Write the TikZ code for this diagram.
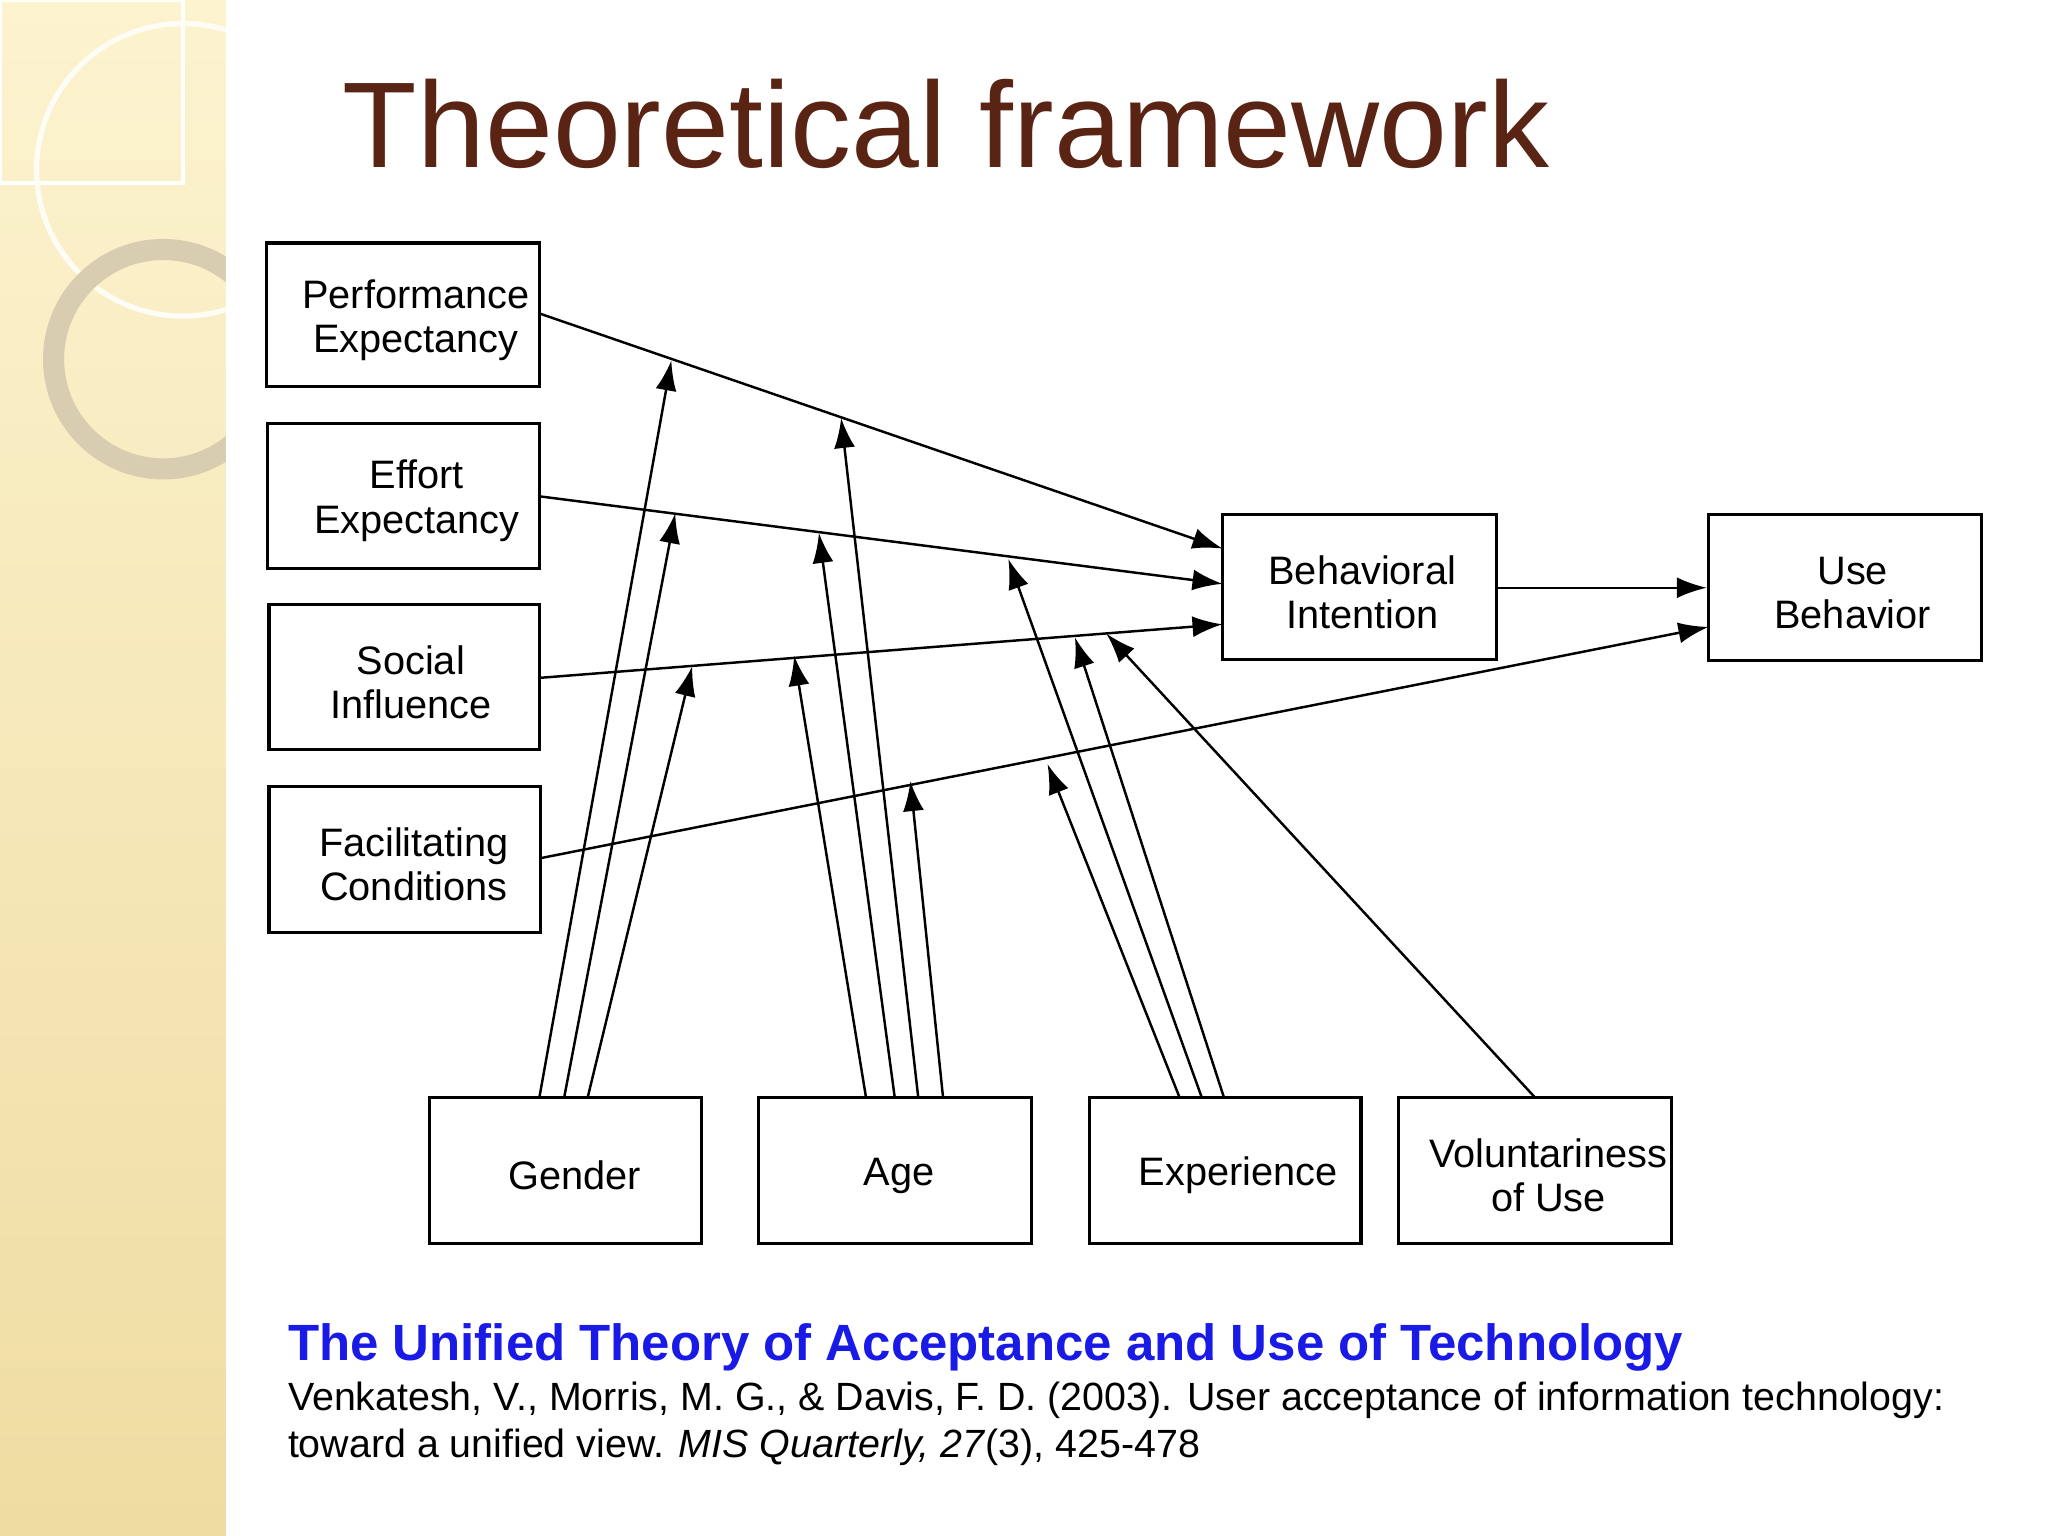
\documentclass[tikz,border=0pt]{standalone}
\usepackage{fontspec}
\setmainfont{Liberation Sans}
\usetikzlibrary{fit,arrows.meta,calc}
\definecolor{titlebrown}{HTML}{5A2415}
\definecolor{stripTop}{HTML}{FCF3CF}
\definecolor{stripBot}{HTML}{EFDCA2}
\definecolor{ringcol}{HTML}{D8CDB0}
\definecolor{citeblue}{HTML}{1A1AE6}
\begin{document}
\begin{tikzpicture}[x=0.01306cm,y=-0.01306cm,
  box/.style={draw,line width=0.9pt,inner sep=0pt},
  lbl/.style={align=center,inner sep=0pt,font=\fontsize{11.3pt}{12.6pt}\selectfont},
  arr/.style={line width=0.7pt,-{Latex[length=3mm,width=2.1mm]}}]
\useasboundingbox (0,0) rectangle (1568,1176);
\fill[white] (0,0) rectangle (1568,1176);
% left strip
\shade[top color=stripTop,bottom color=stripBot] (0,0) rectangle (173,1176);
\begin{scope}
\clip (0,0) rectangle (173,1176);
\draw[white,line width=1pt] (0,0) rectangle (140,140);
\draw[white!80!stripTop,line width=1.5pt] (140,130) circle (112);
\draw[ringcol,line width=6pt] (125,275) circle (84);
\end{scope}
% title
\node[anchor=base west,text=titlebrown,font=\fontsize{34.7pt}{40pt}\selectfont,inner sep=0] (title) at (262,128) {Theoretical framework};
% boxes
\node[box,fit={(204,186)(413,296)}] (pe) {};
\node[box,fit={(205,324)(413,435)}] (ee) {};
\node[box,fit={(206,463)(413,574)}] (si) {};
\node[box,fit={(206,602)(414,714)}] (fc) {};
\node[box,fit={(936,394)(1146,505)}] (bi) {};
\node[box,fit={(1308,394)(1517,506)}] (ub) {};
\node[box,fit={(329,840)(537,952)}] (gen) {};
\node[box,fit={(581,840)(790,952)}] (age) {};
\node[box,fit={(834,840)(1042,952)}] (exp) {};
\node[box,fit={(1071,840)(1280,952)}] (vol) {};
\node[lbl] (tpe) at ($(pe.center)+(10,4)$) {Performance\\Expectancy};
\node[lbl] (tee) at ($(ee.center)+(10,4)$) {Effort\\Expectancy};
\node[lbl] (tsi) at ($(si.center)+(5,4)$) {Social\\Influence};
\node[lbl] (tfc) at ($(fc.center)+(7,4)$) {Facilitating\\Conditions};
\node[lbl] (tbi) at ($(bi.center)+(2,4)$) {Behavioral\\Intention};
\node[lbl] (tub) at ($(ub.center)+(6,4)$) {Use\\Behavior};
\node[lbl] (tgen) at ($(gen.center)+(7,4)$) {Gender};
\node[lbl] (tage) at ($(age.center)+(3,4)$) {Age};
\node[lbl] (texp) at ($(exp.center)+(10,4)$) {Experience};
\node[lbl] (tvol) at ($(vol.center)+(10,4)$) {Voluntariness\\of Use};
% main paths
\coordinate (pe1) at (413,240); \coordinate (pe2) at (936,420);
\coordinate (ee1) at (413,380); \coordinate (ee2) at (936,447);
\coordinate (si1) at (413,519); \coordinate (si2) at (936,478);
\coordinate (fc1) at (414,657); \coordinate (fc2) at (1308,480);
\draw[arr] (pe1) -- (pe2);
\draw[arr] (ee1) -- (ee2);
\draw[arr] (si1) -- (si2);
\draw[arr] (fc1) -- (fc2);
\draw[arr] (bi.east |- 0,450) -- (ub.west |- 0,450);
% moderators
\coordinate (g1) at (413,840); \coordinate (g2) at (432,840); \coordinate (g3) at (450,840);
\coordinate (a1) at (663,840); \coordinate (a2) at (685,840); \coordinate (a3) at (703,840); \coordinate (a4) at (722,840);
\coordinate (x1) at (903,840); \coordinate (x2) at (920,840); \coordinate (x3) at (937,840);
\coordinate (v1) at (1175,840);
\coordinate (tg1) at (514,276); \coordinate (tg2) at (517,393); \coordinate (tg3) at (530,510);
\coordinate (ta1) at (608,502); \coordinate (ta2) at (627,408); \coordinate (ta3) at (644,320); \coordinate (ta4) at (697,598);
\coordinate (tx1) at (802,585); \coordinate (tx2) at (772,428); \coordinate (tx3) at (823,488);
\coordinate (tv1) at (847,485);
\foreach \s/\t in {g1/tg1,g2/tg2,g3/tg3,a1/ta1,a2/ta2,a3/ta3,a4/ta4,x1/tx1,x2/tx2,x3/tx3,v1/tv1}
  \draw[arr] (\s) -- (\t);
% citation
\node[anchor=base west,inner sep=0,text=citeblue,font=\bfseries\fontsize{14.5pt}{16pt}\selectfont] (cite) at (220,1042) {The Unified Theory of Acceptance and Use of Technology};
\node[anchor=base west,inner sep=0,font=\fontsize{11.2pt}{13.5pt}\selectfont] (ref1) at (220,1080) {Venkatesh, V., Morris, M. G., \& Davis, F. D. (2003). User acceptance of information technology:};
\node[anchor=base west,inner sep=0,font=\fontsize{11.2pt}{13.5pt}\selectfont] (ref2) at (220,1116) {toward a unified view. \textit{MIS Quarterly, 27}(3), 425-478};
\end{tikzpicture}
\end{document}
